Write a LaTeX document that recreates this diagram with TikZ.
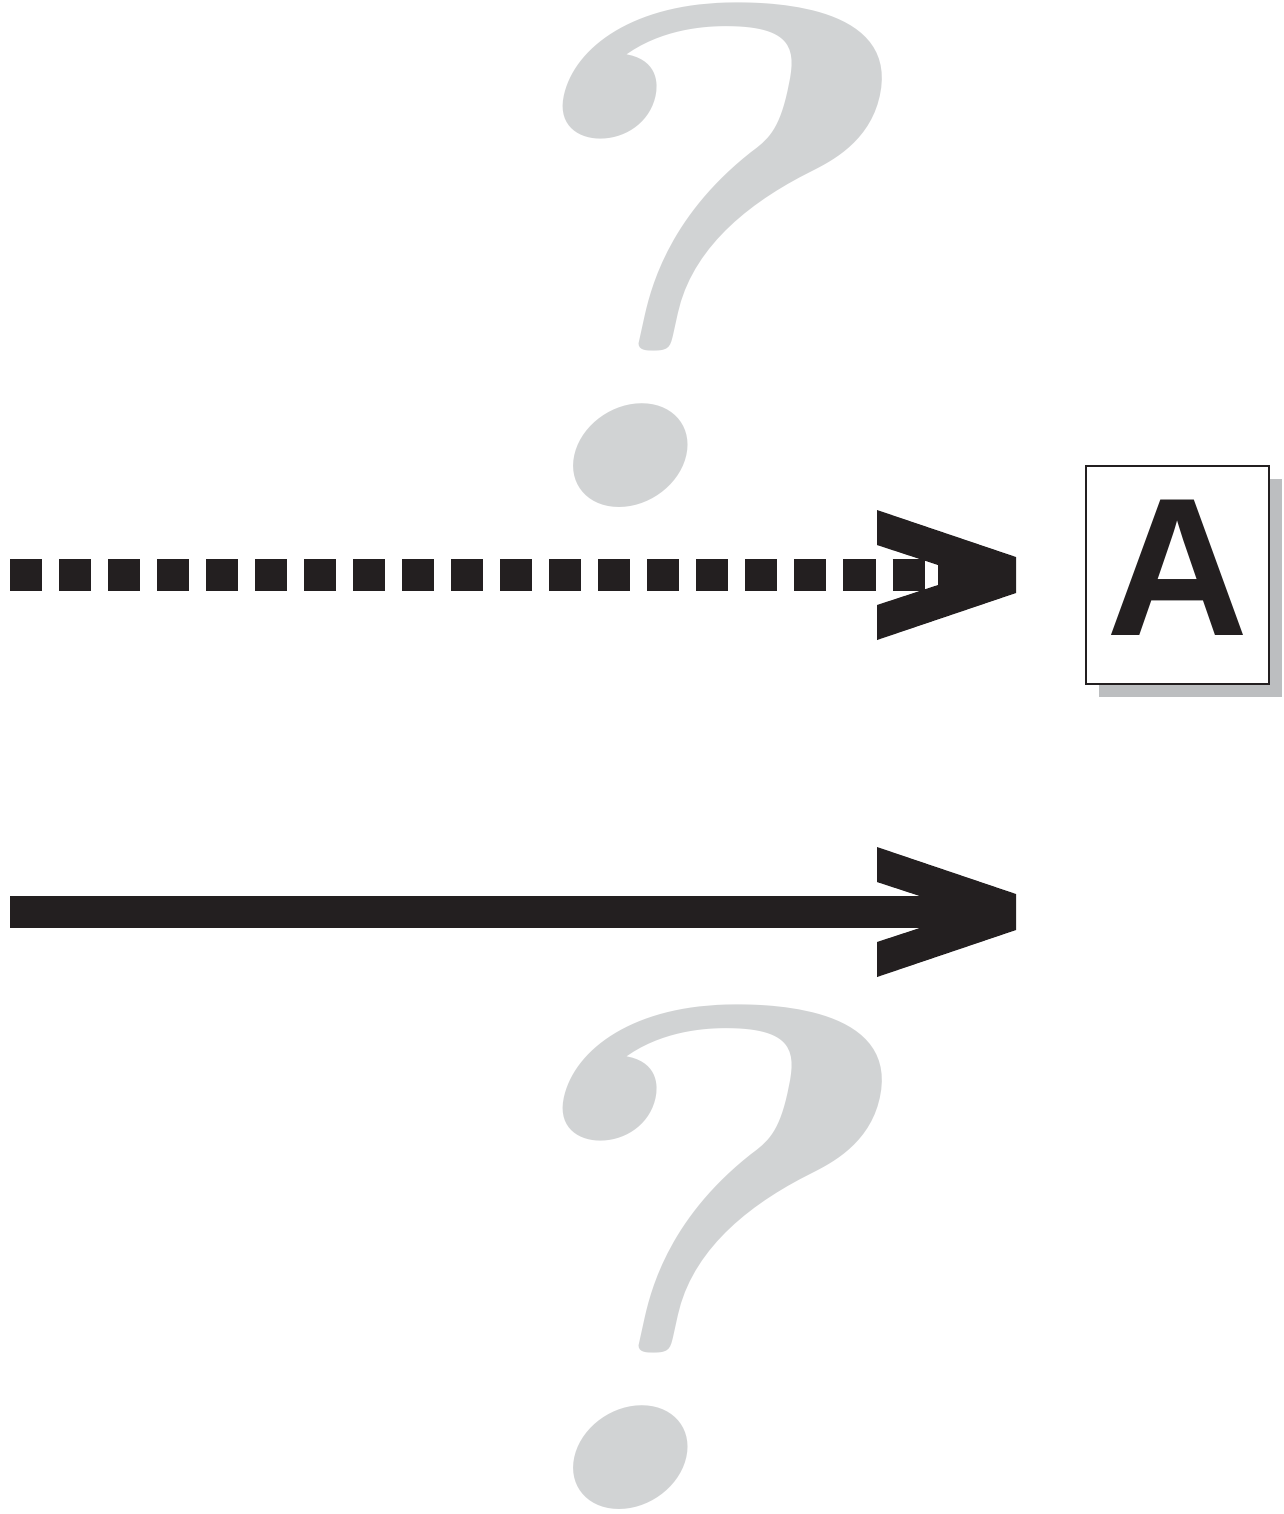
\documentclass[tikz,border=0pt]{standalone}
\usepackage{fontspec}
\newfontfamily\letterfont{Liberation Sans}
\usetikzlibrary{shadows}
\definecolor{ink}{RGB}{35,31,32}
\definecolor{qgray}{RGB}{209,211,212}
\definecolor{shadowgray}{RGB}{188,190,192}
\tikzset{
  qmark/.style={text=qgray, anchor=base, inner sep=0pt, xslant=0.22, xscale=1.08,
    font=\bfseries\fontsize{205}{205}\selectfont},
  dotline/.style={draw=ink, line width=0.32cm, dash pattern=on 0.32cm off 0.17cm},
  solidline/.style={draw=ink, line width=0.32cm},
  letterbox/.style={draw=ink, line width=0.02cm, fill=white, minimum width=1.83cm,
    minimum height=2.18cm, inner sep=0pt, text=ink, text depth=0.14cm,
    font=\letterfont\bfseries\fontsize{56}{56}\selectfont,
    drop shadow={shadow xshift=0.13cm, shadow yshift=-0.13cm, fill=shadowgray, opacity=1}},
  chevron/.pic={
    \fill[ink] (-139,-65) -- (0,-18) -- (0,18) -- (-139,65) -- (-139,30)
      -- (-78,10) -- (-78,-10) -- (-139,-30) -- cycle;
  }
}

\begin{document}
\begin{tikzpicture}[x=0.01cm, y=-0.01cm]
  \useasboundingbox (0,0) rectangle (1284,1514);
  \node[qmark] (qtop) at (632,507) {?};
  \node[qmark] (qbottom) at (632,1509) {?};
  \coordinate (dotStart) at (10,575);
  \coordinate (dotEnd) at (1016,575);
  \coordinate (lineStart) at (10,912);
  \coordinate (lineEnd) at (1016,912);
  \draw[dotline] (dotStart) -- (dotEnd);
  \pic at (dotEnd) {chevron};
  \draw[solidline] (lineStart) -- (lineEnd);
  \pic at (lineEnd) {chevron};
  \node[letterbox] (boxA) at (1177.5,575) {A};
\end{tikzpicture}
\end{document}
